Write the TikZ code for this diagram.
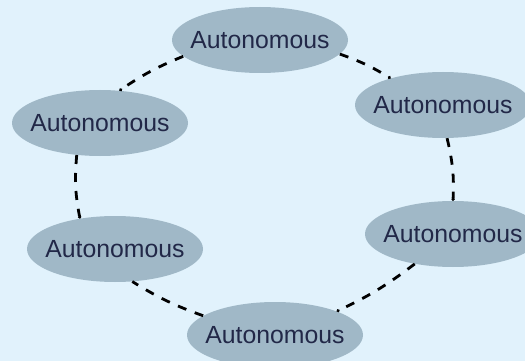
\documentclass[tikz,border=0pt]{standalone}
\usepackage{fontspec}
\setmainfont{Liberation Sans}
\usetikzlibrary{arrows.meta,shapes.geometric}
\definecolor{bgblue}{RGB}{225,242,252}
\definecolor{ellfill}{RGB}{160,184,199}
\definecolor{txtcol}{RGB}{34,40,72}
\tikzset{
  unit/.style={ellipse, fill=ellfill, minimum width=176pt, minimum height=66pt,
    inner sep=0pt, text=txtcol, font=\fontsize{24.8pt}{28pt}\selectfont},
  link/.style={line width=2.8pt, dash pattern=on 9pt off 9pt, black},
  linktip/.style={link, -{Circle[length=3pt]}}
}
\begin{document}
\begin{tikzpicture}[x=1pt, y=-1pt]
\fill[bgblue] (0,0) rectangle (525,361);
\useasboundingbox (0,0) rectangle (525,361);
\node[unit] (T)  at (260,40)  {\makebox[0pt]{Autonomous}};
\node[unit] (RU) at (443,105) {\makebox[0pt]{Autonomous}};
\node[unit] (RL) at (453,234) {\makebox[0pt]{Autonomous}};
\node[unit] (B)  at (275,335) {\makebox[0pt]{Autonomous}};
\node[unit] (LL) at (115,249) {\makebox[0pt]{Autonomous}};
\node[unit] (LU) at (100,123) {\makebox[0pt]{Autonomous}};
\draw[linktip] (T.350) to[bend left=6] (RU.153);
\draw[linktip] (RU.277) to[bend left=8] (RL.90);
\draw[linktip] (RL.218) to[bend left=6] (B.21);
\draw[link] (B.165) to[bend left=6] (LL.298);
\draw[linktip] (LU.234) to[bend right=8] (LL.139);
\draw[linktip] (T.192) to[bend right=6] (LU.59);
\end{tikzpicture}
\end{document}
